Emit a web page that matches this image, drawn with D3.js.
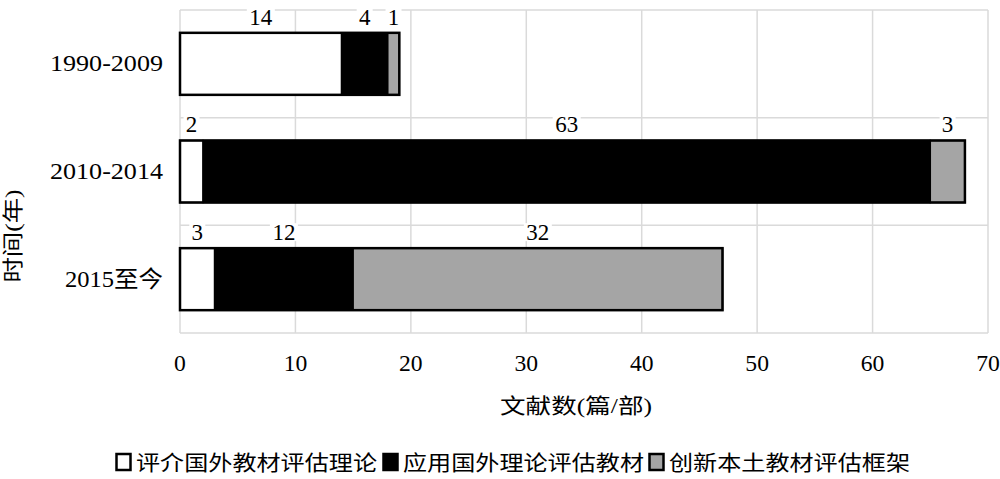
<!DOCTYPE html>
<html><head><meta charset="utf-8">
<script src="https://cdn.jsdelivr.net/npm/d3@7/dist/d3.min.js"></script>
<style>body{margin:0;background:#fff}svg{display:block}text{font-family:"Liberation Serif","Noto Sans CJK SC",serif;fill:#000}</style>
</head><body><svg id="c" width="1000" height="479"></svg>
<script>
const categories = ["1990-2009","2010-2014","2015至今"];
const seriesNames = ["评介国外教材评估理论","应用国外理论评估教材","创新本土教材评估框架"];
const seriesA = [14, 2, 3];
const seriesB = [4, 63, 12];
const seriesC = [1, 3, 32];
const xTicks = [0,10,20,30,40,50,60,70];
const colors = ["#ffffff","#000000","#a5a5a5"];

const svg = d3.select("#c");
const x = d3.scaleLinear().domain([0,70]).range([180,988]);
const y = d3.scaleBand().domain(categories).range([10,333]).paddingInner(0.424).paddingOuter(0.212);

const stackData = categories.map((c,i)=>({cat:c, a:seriesA[i], b:seriesB[i], c:seriesC[i]}));
const stack = d3.stack().keys(["a","b","c"])(stackData);

// gridlines
const g = svg.append("g");
g.selectAll("line.v").data(xTicks).join("line")
  .attr("x1",d=>x(d)).attr("x2",d=>x(d)).attr("y1",10).attr("y2",333)
  .attr("stroke","#dadada").attr("stroke-width",1.5);
const step = y.step();
const hLines = d3.range(categories.length+1).map(i=>10+i*step);
g.selectAll("line.h").data(hLines).join("line")
  .attr("x1",180).attr("x2",988).attr("y1",d=>d).attr("y2",d=>d)
  .attr("stroke","#dadada").attr("stroke-width",1.5);

// bars
stack.forEach((s,si)=>{
  svg.append("g").selectAll("rect").data(s).join("rect")
    .attr("x",d=>x(d[0])).attr("width",d=>x(d[1])-x(d[0]))
    .attr("y",d=>y(d.data.cat)).attr("height",y.bandwidth())
    .attr("fill",colors[si]).attr("stroke","#000").attr("stroke-width",1.5);
});
// outer outline
svg.append("g").selectAll("rect").data(stackData).join("rect")
  .attr("x",x(0)).attr("width",d=>x(d.a+d.b+d.c)-x(0))
  .attr("y",d=>y(d.cat)).attr("height",y.bandwidth())
  .attr("fill","none").attr("stroke","#000").attr("stroke-width",2.5);

// data labels
stack.forEach((s,si)=>{
  const lg = svg.append("g");
  s.forEach(d=>{
    const cx = x((d[0]+d[1])/2), cy = y(d.data.cat)-16;
    const t = String(d[1]-d[0]);
    const w = t.length*12+4;
    lg.append("rect").attr("x",cx-w/2).attr("y",cy-9).attr("width",w).attr("height",18).attr("fill","#fff");
    lg.append("text").attr("x",cx).attr("y",cy).attr("text-anchor","middle").attr("dominant-baseline","central")
      .attr("font-size",24).attr("textLength",t.length*11.5).attr("lengthAdjust","spacingAndGlyphs").text(t);
  });
});

// y labels
const ylw = {"1990-2009":113,"2010-2014":113,"2015至今":98};
svg.append("g").selectAll("text").data(categories).join("text")
  .attr("x",163).attr("y",d=>y(d)+y.bandwidth()/2).attr("text-anchor","end").attr("dominant-baseline","central")
  .attr("font-size",23).attr("textLength",d=>ylw[d]).attr("lengthAdjust","spacingAndGlyphs").text(d=>d);

// x tick labels
svg.append("g").selectAll("text").data(xTicks).join("text")
  .attr("x",d=>x(d)).attr("y",363).attr("text-anchor","middle").attr("dominant-baseline","central")
  .attr("font-size",24).attr("textLength",d=>String(d).length*11.8).attr("lengthAdjust","spacingAndGlyphs").text(d=>d);

// axis titles
svg.append("text").attr("x",576).attr("y",406).attr("text-anchor","middle").attr("dominant-baseline","central")
  .attr("font-size",21).attr("textLength",152).attr("lengthAdjust","spacingAndGlyphs").text("文献数(篇/部)");
svg.append("text").attr("transform","translate(13,236) rotate(-90)").attr("text-anchor","middle").attr("dominant-baseline","central")
  .attr("font-size",21).attr("textLength",93).attr("lengthAdjust","spacingAndGlyphs").text("时间(年)");

// legend
const legX = [115, 382, 648];
const lg = svg.append("g");
seriesNames.forEach((n,i)=>{
  lg.append("rect").attr("x",legX[i]+1.5).attr("y",454).attr("width",14).attr("height",16)
    .attr("fill",colors[i]).attr("stroke","#000").attr("stroke-width",2.5);
  lg.append("text").attr("x",legX[i]+21).attr("y",463).attr("dominant-baseline","central")
    .attr("font-size",21).attr("textLength",241).attr("lengthAdjust","spacingAndGlyphs").text(n);
});
</script></body></html>
